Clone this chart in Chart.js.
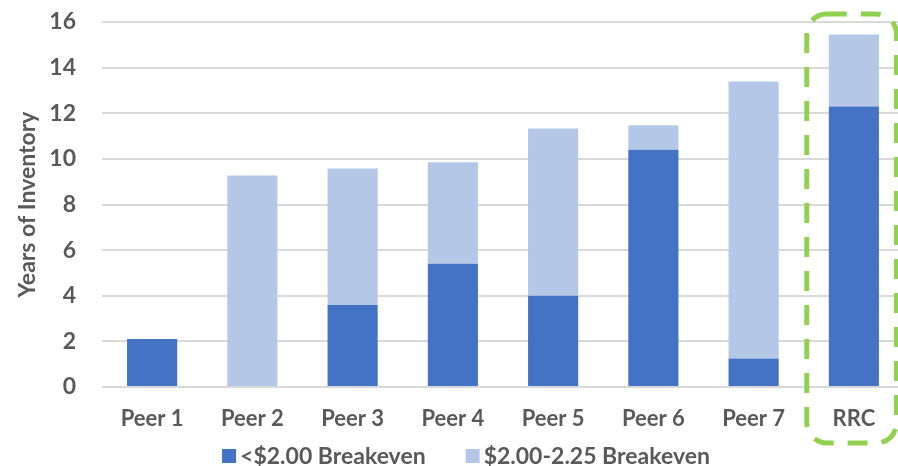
<!DOCTYPE html>
<html>
<head>
<meta charset="utf-8">
<script src="https://cdn.jsdelivr.net/npm/chart.js@4"></script>
<style>
  html, body { margin: 0; padding: 0; background: #fff; overflow: hidden; }
  #wrap { width: 904px; height: 466px; position: relative; }
</style>
</head>
<body>
<div id="wrap"><canvas id="inventoryChart"></canvas></div>
<script>
//Chart data
const categories = ["Peer 1", "Peer 2", "Peer 3", "Peer 4", "Peer 5", "Peer 6", "Peer 7", "RRC"];
const below200 = [2.1, 0, 3.6, 5.4, 4.0, 10.4, 1.25, 12.3];
const from200to225 = [0, 9.27, 5.98, 4.45, 7.33, 1.07, 12.14, 3.15];
const seriesNames = ["<$2.00 Breakeven", "$2.00-2.25 Breakeven"];
const yTicks = [0, 2, 4, 6, 8, 10, 12, 14, 16];

const textColor = "#595959";
const fontFamily = "Lato, 'Open Sans', sans-serif";
const seriesColors = ["#4472C4", "#B4C7E7"];

//Dashed highlight round the last category
const highlightBox = {
  id: "highlightBox",
  afterDraw(chart) {
    const ctx = chart.ctx;
    const x = chart.scales.x;
    const idx = categories.indexOf("RRC");
    const center = x.getPixelForValue(idx);
    const step = x.getPixelForValue(1) - x.getPixelForValue(0);
    const left = center - step * 0.47;
    const right = center + step * 0.425;
    const top = 14;
    const bottom = 443;
    ctx.save();
    ctx.strokeStyle = "#92D050";
    ctx.lineWidth = 5;
    ctx.setLineDash([20, 14]);
    ctx.beginPath();
    ctx.roundRect(left, top, right - left, bottom - top, 20);
    ctx.stroke();
    ctx.restore();
  }
};

//Legend drawn by hand so the spacing can follow the original
const bottomLegend = {
  id: "bottomLegend",
  afterDraw(chart) {
    const ctx = chart.ctx;
    const box = 14, gapText = 4, gapItem = 40;
    ctx.save();
    ctx.font = "bold 23px " + fontFamily;
    ctx.textBaseline = "middle";
    ctx.textAlign = "left";
    const widths = chart.data.datasets.map(d => ctx.measureText(d.label).width);
    let total = 0;
    widths.forEach((w, i) => { total += box + gapText + w + (i ? gapItem : 0); });
    let xPos = chart.width / 2 + 14 - total / 2;
    const yMid = 456;
    chart.data.datasets.forEach((d, i) => {
      ctx.fillStyle = d.backgroundColor;
      ctx.fillRect(xPos, yMid - box / 2, box, box);
      ctx.fillStyle = textColor;
      ctx.fillText(d.label, xPos + box + gapText, yMid + 1);
      xPos += box + gapText + widths[i] + gapItem;
    });
    ctx.restore();
  }
};

const inventoryCanvas = document.querySelector("#inventoryChart");

new Chart(inventoryCanvas, {
  type: "bar",
  data: {
    labels: categories,
    datasets: [{
      label: seriesNames[0],
      data: below200,
      backgroundColor: seriesColors[0],
      categoryPercentage: 1,
      barPercentage: 0.5
    }, {
      label: seriesNames[1],
      data: from200to225,
      backgroundColor: seriesColors[1],
      categoryPercentage: 1,
      barPercentage: 0.5
    }]
  },
  options: {
    responsive: true,
    maintainAspectRatio: false,
    animation: false,
    layout: { padding: { top: 0, left: 0, right: 0, bottom: 34 } },
    plugins: {
      tooltip: { enabled: false },
      legend: { display: false }
    },
    scales: {
      x: {
        stacked: true,
        afterFit(axis) {
          axis.height = 45;
          axis.paddingLeft = 0;
          axis.paddingRight = 0;
        },
        grid: { display: false, drawTicks: false },
        border: { display: false },
        ticks: {
          color: textColor,
          padding: 19,
          font: { family: fontFamily, size: 22, weight: "bold" }
        }
      },
      y: {
        stacked: true,
        min: 0,
        max: 16,
        afterBuildTicks(axis) {
          axis.ticks = yTicks.map(v => ({ value: v }));
        },
        afterFit(axis) {
          axis.width = 102;
          axis.paddingTop = 22;
          axis.paddingBottom = 0;
        },
        grid: { color: "#D9D9D9", lineWidth: 2, drawTicks: false },
        border: { display: false },
        ticks: {
          color: textColor,
          padding: 26,
          font: { family: fontFamily, size: 23, weight: "bold" }
        },
        title: {
          display: true,
          text: "Years of Inventory",
          color: textColor,
          padding: { top: 14, bottom: 0 },
          font: { family: fontFamily, size: 23, weight: "bold" }
        }
      }
    }
  },
  plugins: [highlightBox, bottomLegend]
});
</script>
</body>
</html>
